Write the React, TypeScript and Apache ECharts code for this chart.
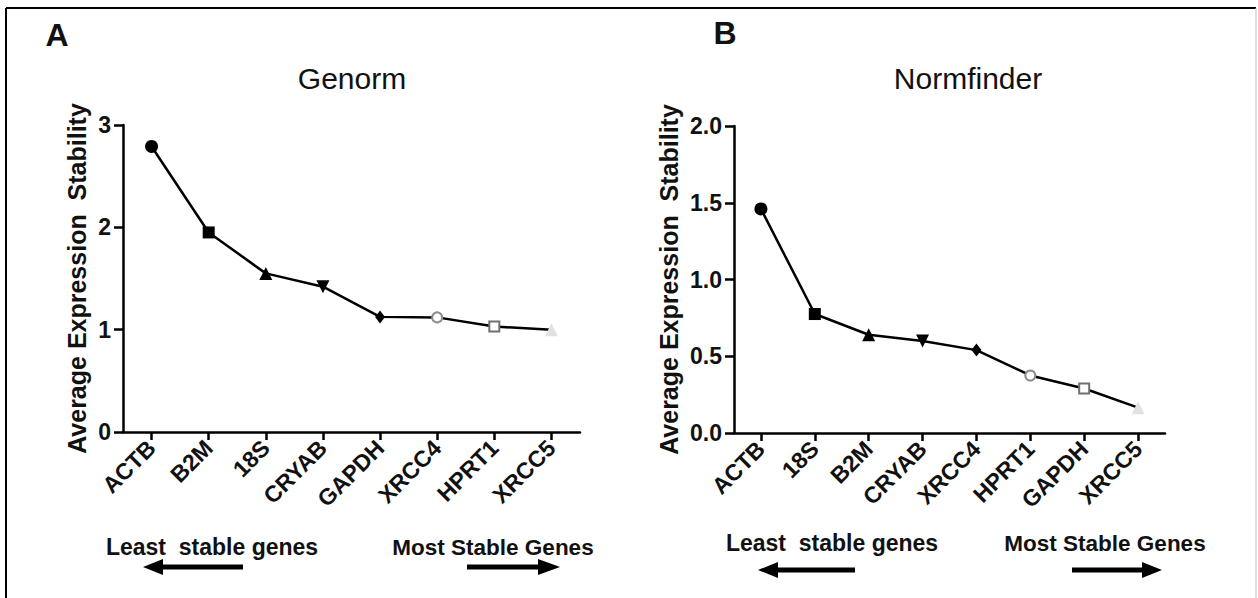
import React, { useEffect, useRef } from "react";
import * as echarts from "echarts";

const genormGenes = ["ACTB", "B2M", "18S", "CRYAB", "GAPDH", "XRCC4", "HPRT1", "XRCC5"];
const genormValues = [2.79, 1.95, 1.55, 1.42, 1.125, 1.12, 1.03, 1.0];
const normfinderGenes = ["ACTB", "18S", "B2M", "CRYAB", "XRCC4", "HPRT1", "GAPDH", "XRCC5"];
const normfinderValues = [1.46, 0.775, 0.64, 0.6, 0.54, 0.375, 0.29, 0.165];
const genormTicks = [0, 1, 2, 3];
const normfinderTicks = [0, 0.5, 1.0, 1.5, 2.0];

const FONT = "Liberation Sans, Arial, Helvetica, sans-serif";

const markerStyles = [
  { symbol: "circle", symbolSize: 13, itemStyle: { color: "#000" } },
  { symbol: "rect", symbolSize: 12, itemStyle: { color: "#000" } },
  { symbol: "triangle", symbolSize: 13, itemStyle: { color: "#000" } },
  { symbol: "triangle", symbolSize: 13, symbolRotate: 180, itemStyle: { color: "#000" } },
  { symbol: "diamond", symbolSize: [10, 13], itemStyle: { color: "#000" } },
  { symbol: "circle", symbolSize: 10, itemStyle: { color: "#fff", borderColor: "#8c8c8c", borderWidth: 2 } },
  { symbol: "rect", symbolSize: 10, itemStyle: { color: "#fff", borderColor: "#707070", borderWidth: 2 } },
  { symbol: "triangle", symbolSize: 13, itemStyle: { color: "#e2e2e2" } },
];

function buildData(values: number[]) {
  return values.map((v, i) => ({ value: v, ...markerStyles[i] }));
}

function yAxis(gridIndex: number, ticks: number[], decimals: number, nameGap: number) {
  return {
    type: "value",
    gridIndex,
    min: ticks[0],
    max: ticks[ticks.length - 1],
    interval: ticks[1] - ticks[0],
    name: "Average Expression  Stability",
    nameLocation: "middle",
    nameRotate: 90,
    nameGap,
    nameTextStyle: { fontFamily: FONT, fontWeight: "bold", fontSize: 25, color: "#111" },
    axisLine: { show: true, lineStyle: { color: "#000", width: 2.5 } },
    axisTick: { show: true, length: 9, lineStyle: { color: "#000", width: 2.5 } },
    axisLabel: {
      fontFamily: FONT,
      fontWeight: "bold",
      fontSize: 23,
      color: "#111",
      margin: 12,
      formatter: (v: number) => v.toFixed(decimals),
    },
    splitLine: { show: false },
  };
}

function xAxis(gridIndex: number, genes: string[]) {
  return {
    type: "category",
    gridIndex,
    data: genes,
    boundaryGap: true,
    axisLine: { show: true, lineStyle: { color: "#000", width: 2.5 } },
    axisTick: { show: true, alignWithLabel: true, length: 8, lineStyle: { color: "#000", width: 2.5 } },
    axisLabel: {
      rotate: 45,
      fontFamily: FONT,
      fontWeight: "bold",
      fontSize: 23,
      color: "#111",
      margin: 12,
      interval: 0,
    },
  };
}

function label(text: string, x: number, y: number, size: number, weight: string) {
  return {
    type: "text",
    x,
    y,
    style: {
      text,
      fill: "#111",
      fontFamily: FONT,
      fontSize: size,
      fontWeight: weight,
      align: "center",
      verticalAlign: "middle",
    },
  };
}

function arrow(x1: number, x2: number, tip: number, y: number) {
  const base = tip < x1 ? x1 : x2;
  return [
    { type: "line", shape: { x1, y1: y, x2, y2: y }, style: { stroke: "#000", lineWidth: 5 } },
    {
      type: "polygon",
      shape: { points: [[tip, y], [base, y - 8], [base, y + 8]] },
      style: { fill: "#000" },
    },
  ];
}

export default function App() {
  const ref = useRef<HTMLDivElement>(null);
  useEffect(() => {
    if (!ref.current) return;
    const chart = echarts.init(ref.current, null, { renderer: "svg" });
    const option = {
      animation: false,
      backgroundColor: "#fff",
      grid: [
        { left: 123, top: 125, width: 457, height: 307 },
        { left: 734, top: 126, width: 431, height: 307 },
      ],
      xAxis: [xAxis(0, genormGenes), xAxis(1, normfinderGenes)],
      yAxis: [yAxis(0, genormTicks, 0, 34), yAxis(1, normfinderTicks, 1, 53)],
      series: [
        {
          type: "line",
          xAxisIndex: 0,
          yAxisIndex: 0,
          data: buildData(genormValues),
          lineStyle: { color: "#000", width: 2.5 },
          z: 3,
        },
        {
          type: "line",
          xAxisIndex: 1,
          yAxisIndex: 1,
          data: buildData(normfinderValues),
          lineStyle: { color: "#000", width: 2.5 },
          z: 3,
        },
      ],
      graphic: [
        { type: "line", shape: { x1: 6, y1: 8, x2: 1256, y2: 8 }, style: { stroke: "#000", lineWidth: 2 } },
        { type: "line", shape: { x1: 6, y1: 8, x2: 6, y2: 598 }, style: { stroke: "#000", lineWidth: 2 } },
        { type: "line", shape: { x1: 1256, y1: 8, x2: 1256, y2: 598 }, style: { stroke: "#bdbdbd", lineWidth: 1 } },
        label("A", 57, 35, 32, "bold"),
        label("B", 725, 33, 32, "bold"),
        label("Genorm", 352, 78, 30, "normal"),
        label("Normfinder", 968, 78, 30, "normal"),
        label("Least  stable genes", 212, 547, 23, "bold"),
        label("Most Stable Genes", 493, 547, 22.5, "bold"),
        label("Least  stable genes", 832, 543, 23, "bold"),
        label("Most Stable Genes", 1105, 543, 22.5, "bold"),
        ...arrow(163, 243, 143, 567),
        ...arrow(467, 538, 560, 567),
        ...arrow(778, 855, 758, 570),
        ...arrow(1072, 1142, 1162, 570),
      ],
    };
    chart.setOption(option as any);
    return () => chart.dispose();
  }, []);
  return (
    <div
      ref={ref}
      style={{ position: "absolute", left: 0, top: 0, width: 1258, height: 598, background: "#fff" }}
    />
  );
}
